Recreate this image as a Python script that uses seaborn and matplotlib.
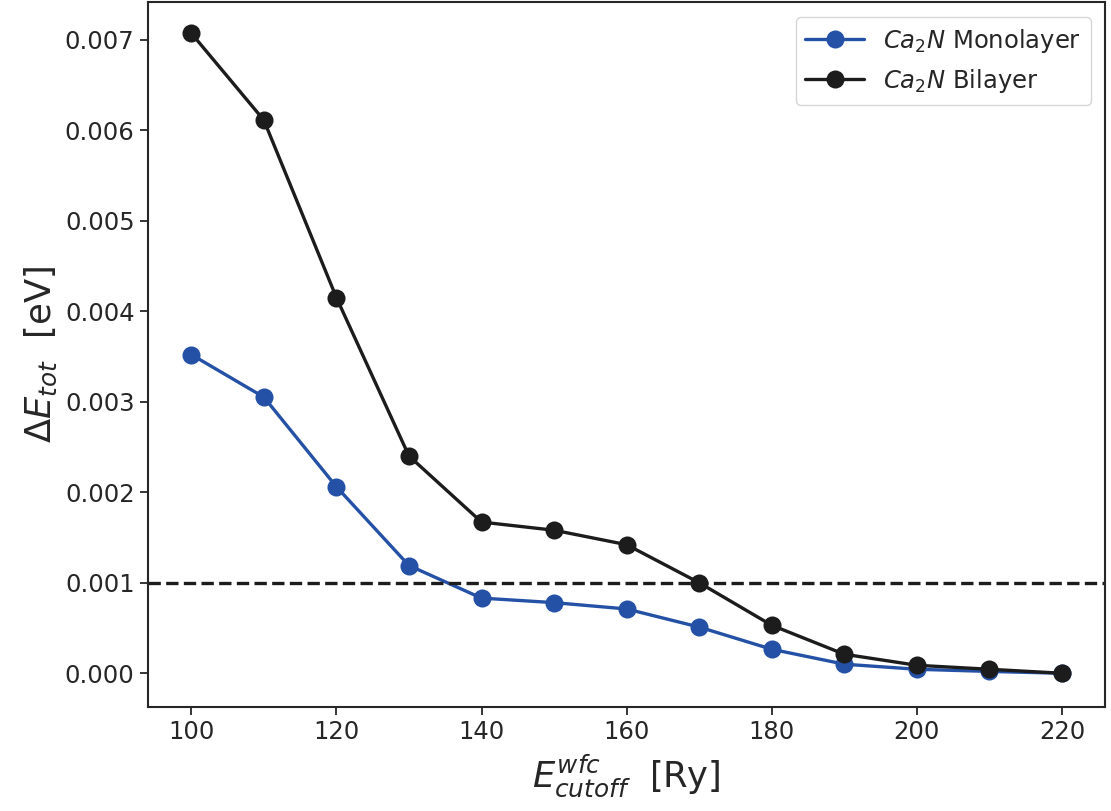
import numpy as np
import pandas as pd
import matplotlib
matplotlib.use("Agg")
import matplotlib.pyplot as plt
import seaborn as sns

cutoff = [100, 110, 120, 130, 140, 150, 160, 170, 180, 190, 200, 210, 220]
monolayer = [0.00352, 0.00305, 0.00206, 0.00119, 0.00083, 0.00078, 0.00071,
             0.00051, 0.000265, 0.00010, 0.000044, 0.00002, 0.0]
bilayer = [0.00707, 0.00611, 0.00415, 0.00240, 0.00167, 0.00158, 0.00142,
           0.00100, 0.00053, 0.00021, 0.000088, 0.000044, 0.0]
labels = [r"$Ca_2N$ Monolayer", r"$Ca_2N$ Bilayer"]
colors = ["#2451a6", "#1c1c1c"]
threshold = 0.001

df = pd.DataFrame({
    "cutoff": cutoff * 2,
    "dE": monolayer + bilayer,
    "system": [labels[0]] * len(cutoff) + [labels[1]] * len(cutoff),
})

sns.set_theme(style="ticks")
plt.rcParams["font.family"] = ["DejaVu Sans"]

fig = plt.figure(figsize=(11.11, 8.11), dpi=100)
ax = fig.add_axes([0.133, 0.128, 0.862, 0.869])

sns.lineplot(data=df, x="cutoff", y="dE", hue="system", palette=colors,
             marker="o", markersize=13, markeredgewidth=0, linewidth=2.4,
             ax=ax)
ax.axhline(threshold, color="#1c1c1c", linestyle="--", linewidth=2.4)

ax.set_xticks([100, 120, 140, 160, 180, 200, 220])
ax.set_yticks([0.0, 0.001, 0.002, 0.003, 0.004, 0.005, 0.006, 0.007])
ax.yaxis.set_major_formatter(matplotlib.ticker.FormatStrFormatter("%.3f"))
ax.set_xlim(94, 226)
ax.set_ylim(-0.000375, 0.00741)
ax.tick_params(labelsize=17.5, width=1.3, length=6)
for s in ax.spines.values():
    s.set_linewidth(1.5)
    s.set_color("#262626")

ax.set_xlabel(r"$E_{cutoff}^{wfc}$  [Ry]", fontsize=25.5, labelpad=6)
ax.set_ylabel(r"$\Delta E_{tot}$  [eV]", fontsize=25.5)

leg = ax.legend(loc="upper right", fontsize=17.5, title=None,
                handlelength=2.4, borderaxespad=0.6)

fig.savefig("out.png", dpi=100)
